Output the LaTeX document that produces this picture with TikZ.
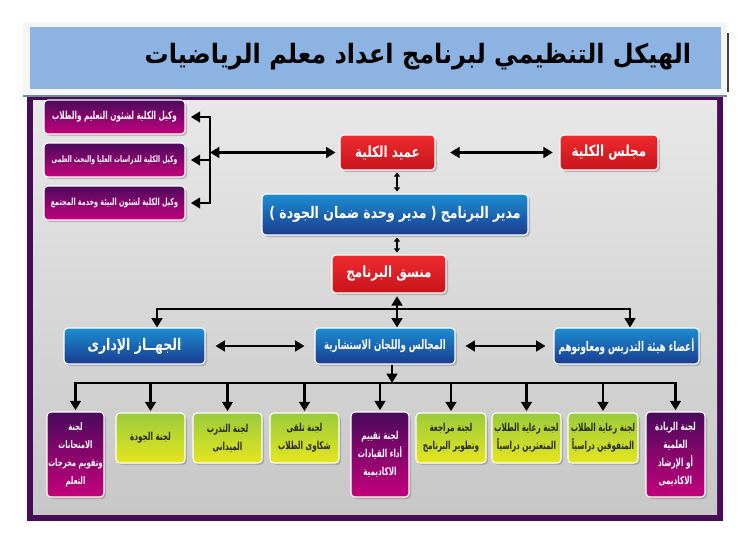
\documentclass[tikz,border=0pt]{standalone}
\usepackage{fontspec}
\usetikzlibrary{positioning,calc,arrows.meta,shadows}
\newfontfamily\arabicfont[Script=Arabic,FakeStretch=0.78]{DejaVu Sans}
\newfontfamily\narrowfont[Script=Arabic,FakeStretch=0.66]{DejaVu Sans}
\newfontfamily\titlefont[Script=Arabic,FakeStretch=0.9]{DejaVu Sans}
\TeXXeTstate=1
\definecolor{framec}{HTML}{4A0A5A}
\definecolor{titlec}{HTML}{8DB3E2}
\definecolor{purtop}{HTML}{4A0A5C}
\definecolor{purbot}{HTML}{C4007C}
\definecolor{redtop}{HTML}{EE2A2E}
\definecolor{redbot}{HTML}{C8141C}
\definecolor{blutop}{HTML}{1C8ED2}
\definecolor{blubot}{HTML}{1B3B8E}
\definecolor{grntop}{HTML}{9ACB3C}
\definecolor{grnbot}{HTML}{E6E61E}
\newcommand{\artx}[1]{\beginR #1\endR}
\newcommand{\fs}[1]{\arabicfont\bfseries\fontsize{#1}{13.5}\selectfont}
\newcommand{\fn}[1]{\narrowfont\bfseries\fontsize{#1}{13.5}\selectfont}

\begin{document}
\begin{tikzpicture}[x=0.75pt,y=-0.75pt,
  box/.style={rounded corners=3pt, draw=white, line width=0.8pt, align=center, inner sep=0.5pt,
    drop shadow={shadow xshift=1.5pt,shadow yshift=-1.5pt,opacity=0.45}},
  pbox/.style={box, top color=purtop, bottom color=purbot, text=white},
  rbox/.style={box, top color=redtop, bottom color=redbot, text=white},
  bbox/.style={box, top color=blutop, bottom color=blubot, text=white},
  gbox/.style={box, top color=grntop, bottom color=grnbot, text=black!85},
  sz/.style 2 args={minimum width=#1*0.75pt, minimum height=#2*0.75pt},
  arr/.style={line width=2pt, -{Triangle[length=7pt,width=8pt]}},
  darr/.style={line width=2pt, {Triangle[length=7pt,width=8pt]}-{Triangle[length=7pt,width=8pt]}},
  sarr/.style={line width=1.4pt, {Triangle[length=3pt,width=4.5pt]}-{Triangle[length=3pt,width=4.5pt]}}]
 \useasboundingbox (0,0) rectangle (749,543);
 % frame and title bar
 \fill[framec] (27,97) rectangle (723,521);
 \shade[top color=black!9, bottom color=black!22] (33,100) rectangle (717,514);
 \fill[black!4] (23,22) rectangle (727,95);
 \draw[black!45!teal!60, line width=1.2pt] (23,96) -- (727,96);
 \fill[titlec] (30,27) rectangle (721,89);
 \draw[black!75, line width=1pt] (728,33) -- (728,92);
 \node (title) at (418,57) {\titlefont\bfseries\fontsize{20}{24}\selectfont\artx{الهيكل التنظيمي لبرنامج اعداد معلم الرياضيات}};
 % top of the chart
 \node[pbox, sz={141}{34}, font=\fn{8.2}] (vp1) at (114.5,117) {\artx{وكيل الكلية لشئون التعليم والطلاب}};
 \node[pbox, sz={141}{34}, font=\fn{6.8}] (vp2) at (114.5,160) {\artx{وكيل الكلية للدراسات العليا والبحث العلمى}};
 \node[pbox, sz={141}{34}, font=\fn{7.3}] (vp3) at (114.5,203) {\artx{وكيل الكلية لشئون البيئة وخدمة المجتمع}};
 \node[rbox, sz={95}{35}, font=\fs{11.5}] (dean) at (387.5,152.5) {\artx{عميد الكلية}};
 \node[rbox, sz={98}{35}, font=\fs{11.5}] (council) at (609,152.5) {\artx{مجلس الكلية}};
 \node[bbox, sz={266}{41}, font=\fs{12}] (director) at (395,214.5) {\artx{مدير البرنامج ( مدير وحدة ضمان الجودة )}};
 \node[rbox, sz={114}{38}, font=\fs{11.5}] (coord) at (389,274) {\artx{منسق البرنامج}};
 \node[bbox, sz={141}{36}, font=\fs{12}] (admin) at (134.5,346) {\artx{الجهــاز الإدارى}};
 \node[bbox, sz={140}{36}, font=\fn{9.8}] (councils) at (385,346) {\artx{المجالس واللجان الاستشارية}};
 \node[bbox, sz={145}{36}, font=\fn{10}] (staff) at (626.5,346) {\artx{أعضاء هيئة التدريس ومعاونوهم}};
 % committees
 \node[pbox, sz={57}{85}, font=\fn{7.8}] (c1) at (75.5,454.5) {\artx{لجنة}\\\artx{الامتحانات}\\\artx{وتقويم مخرجات}\\\artx{التعلم}};
 \node[gbox, sz={69}{50}, font=\fn{8.2}] (c2) at (150.5,438) {\artx{لجنة الجودة}};
 \node[gbox, sz={69}{50}, font=\fn{8.2}] (c3) at (227.5,438) {\artx{لجنة التدرب}\\\artx{الميدانى}};
 \node[gbox, sz={69}{50}, font=\fn{8.2}] (c4) at (304.5,438) {\artx{لجنة تلقى}\\\artx{شكاوى الطلاب}};
 \node[pbox, sz={58}{85}, font=\fn{8.2}] (c5) at (380,454.5) {\artx{لجنة تقييم}\\\artx{أداء القيادات}\\\artx{الاكاديمية}};
 \node[gbox, sz={70}{50}, font=\fn{8.2}] (c6) at (451,438) {\artx{لجنة مراجعة}\\\artx{وتطوير البرنامج}};
 \node[gbox, sz={69}{50}, font=\fn{8.2}] (c7) at (526.5,438) {\artx{لجنة رعاية الطلاب}\\\artx{المتعثرين دراسياً}};
 \node[gbox, sz={70}{50}, font=\fn{8.2}] (c8) at (603,438) {\artx{لجنة رعاية الطلاب}\\\artx{المتفوقين دراسياً}};
 \node[pbox, sz={59}{85}, font=\fn{8.2}] (c9) at (675.5,454.5) {\artx{لجنة الريادة}\\\artx{العلمية}\\\artx{أو الإرشاد}\\\artx{الاكاديمى}};
 % connectors
 \coordinate (brk) at (210,0);
 \coordinate (spine) at (397,0);
 \draw[line width=2pt, line cap=rect] (brk |- vp1.east) -- (brk |- vp3.east);
 \foreach \n in {vp1,vp2,vp3} \draw[arr, shorten >=4pt] (brk |- \n.east) -- (\n.east);
 \draw[darr, shorten >=3pt] (brk |- dean.west) -- (dean.west);
 \draw[darr, shorten <=11pt, shorten >=5pt] (dean.east) -- (council.west);
 \draw[sarr, shorten <=1.5pt, shorten >=1.5pt] (spine |- dean.south) -- (spine |- director.north);
 \draw[sarr, shorten <=1.5pt, shorten >=1.5pt] (spine |- director.south) -- (spine |- coord.north);
 \draw[darr, shorten <=2pt] (spine |- coord.south) -- (spine |- councils.north);
 \coordinate (b1l) at (157,309);
 \coordinate (b1r) at (630,309);
 \draw[line width=2pt, line cap=rect] (b1l) -- (b1r);
 \draw[arr] (b1l) -- (b1l |- admin.north);
 \draw[arr] (b1r) -- (b1r |- staff.north);
 \draw[darr, shorten <=7.5pt, shorten >=7.5pt] (admin.east) -- (councils.west);
 \draw[darr, shorten <=7.5pt, shorten >=6pt] (councils.east) -- (staff.west);
 \coordinate (bus) at (392,383);
 \draw[arr] (bus |- councils.south) -- (bus);
 \draw[line width=2pt, line cap=rect] (bus -| c1.north) -- (bus -| c9.north);
 \foreach \n in {c1,c2,c3,c4,c5,c6,c7,c8,c9} \draw[arr, shorten >=1pt] (bus -| \n.north) -- (\n.north);
\end{tikzpicture}
\end{document}
